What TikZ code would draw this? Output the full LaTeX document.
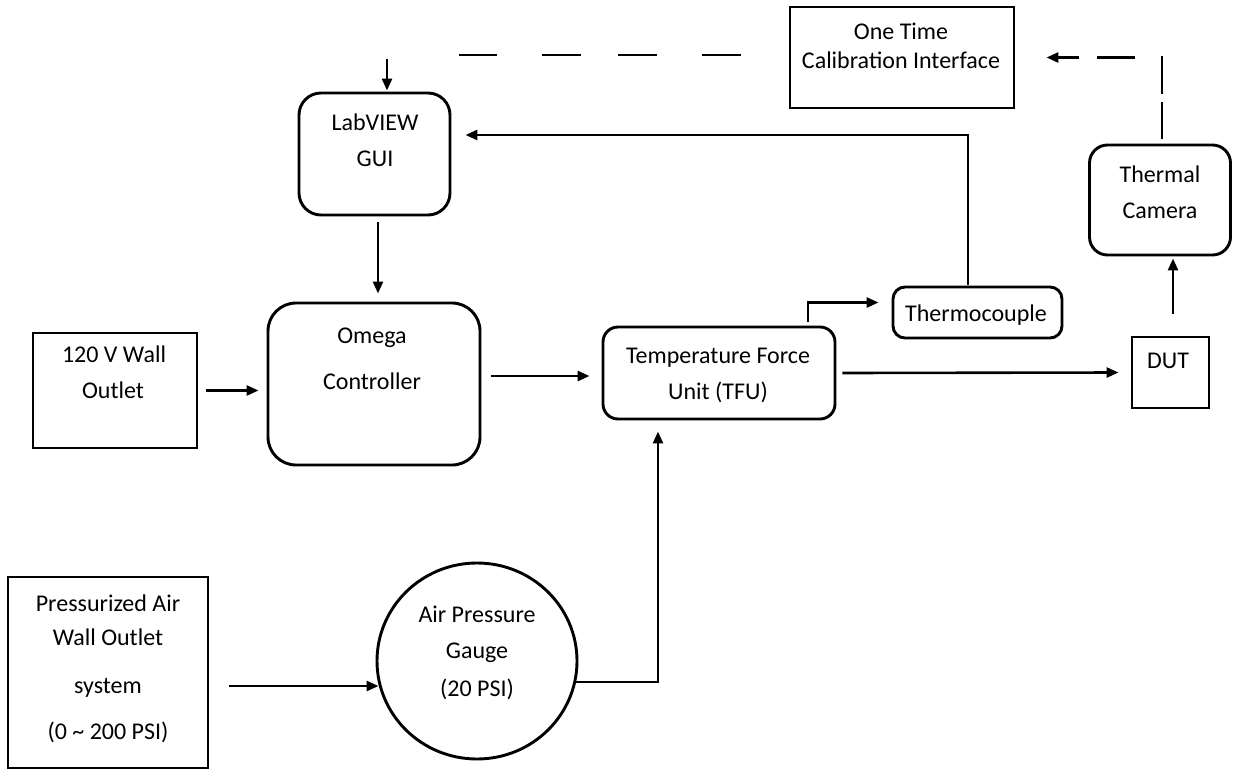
\documentclass[tikz,border=0pt]{standalone}
\usepackage{fontspec}
\setmainfont{Carlito}
\usetikzlibrary{arrows.meta,shapes.geometric}
\begin{document}
\begin{tikzpicture}[x=1pt,y=-1pt,
  box/.style={draw,line width=2.9pt,rectangle,inner sep=0pt},
  rbox/.style={box,rounded corners=#1},
  oval/.style={draw,line width=2.9pt,ellipse,inner sep=0pt},
  txt/.style={anchor=base,inner sep=0pt,font=\fontsize{24}{29}\selectfont},
  conn/.style={line width=2.6pt,-{Triangle[length=12pt,width=10pt]}},
  dconn/.style={conn,dash pattern=#1}]
\useasboundingbox (0,0) rectangle (1233,771);

% boxes
\node[rbox=22pt,minimum width=151pt,minimum height=122pt] (lab) at (374.5,154) {};
\node[rbox=28pt,minimum width=212pt,minimum height=162pt] (omega) at (374,384) {};
\node[box,minimum width=164pt,minimum height=115pt] (v120) at (115,390.5) {};
\node[rbox=15pt,minimum width=232pt,minimum height=92pt] (tfu) at (719,373) {};
\node[rbox=12pt,minimum width=169pt,minimum height=51pt] (thc) at (977.5,312.5) {};
\node[box,minimum width=77pt,minimum height=71pt] (dut) at (1170.5,372.5) {};
\node[rbox=18pt,minimum width=141pt,minimum height=110pt] (cam) at (1160,200) {};
\node[box,minimum width=224pt,minimum height=101pt] (cal) at (902,57.5) {};
\node[box,minimum width=200pt,minimum height=191pt] (air) at (108,672.5) {};
\node[oval,minimum width=200pt,minimum height=196pt] (gauge) at (477,661) {};

% texts
\node[txt] (t1) at (375,130) {LabVIEW};
\node[txt] (t2) at (375,166) {GUI};
\node[txt] (t3) at (372,343) {Omega};
\node[txt] (t4) at (372,389) {Controller};
\node[txt] (t5) at (114,362) {120 V Wall};
\node[txt] (t6) at (113,398) {Outlet};
\node[txt] (t7) at (718,363) {Temperature Force};
\node[txt] (t8) at (718,399) {Unit (TFU)};
\node[txt] (t9) at (976,321) {Thermocouple};
\node[txt] (t10) at (1168,368) {DUT};
\node[txt] (t11) at (1160,182) {Thermal};
\node[txt] (t12) at (1160,218) {Camera};
\node[txt] (t13) at (901,39) {One Time};
\node[txt] (t14) at (901,68) {Calibration Interface};
\node[txt] (t15) at (108,611) {Pressurized Air};
\node[txt] (t16) at (108,645) {Wall Outlet};
\node[txt] (t17) at (108,693) {system};
\node[txt] (t18) at (108,739) {(0 \textasciitilde{} 200 PSI)};
\node[txt] (t19) at (477,622) {Air Pressure};
\node[txt] (t20) at (477,658) {Gauge};
\node[txt] (t21) at (477,696) {(20 PSI)};

% connectors
\draw[conn] ([shift={(8,0)}]v120.east) -- ([shift={(-8,0)}]v120.east -| omega.west);
\draw[conn] ([shift={(10,-8)}]omega.east) -- ([shift={(-12,3)}]tfu.west);
\draw[conn] ([shift={(3.5,6)}]lab.south) -- ([shift={(4,-8)}]omega.north);
\draw[conn] ([shift={(-9.5,-1)}]thc.north) |- ([shift={(14,-19)}]lab.east);
\draw[conn] ([shift={(89,-4)}]tfu.north) |- ([shift={(-13,-10)}]thc.west);
\draw[conn] ([shift={(6,0)}]tfu.east) -- ([shift={(-12,0)}]dut.west);
\draw[conn] ([shift={(2.5,-22)}]dut.north) -- ([shift={(13,2)}]cam.south);
\draw[conn] ([shift={(20,13.5)}]air.east) -- ([shift={(3,25)}]gauge.west);
\draw[conn] ([shift={(-2,21)}]gauge.east) -| ([shift={(-61,11)}]tfu.south);
\draw[dconn={on 37pt off 8pt on 37.5pt off 26pt on 38pt off 18pt on 80pt}]
  ([shift={(2,-5)}]cam.north) |- ([shift={(31,0)}]cal.east);
\draw[dconn={on 39pt off 45pt on 39pt off 37pt on 39pt off 45pt on 38pt off 76pt on 100pt}]
  ([shift={(-48,-2.5)}]cal.west) -| ([shift={(12.5,-1)}]lab.north);
\end{tikzpicture}
\end{document}
